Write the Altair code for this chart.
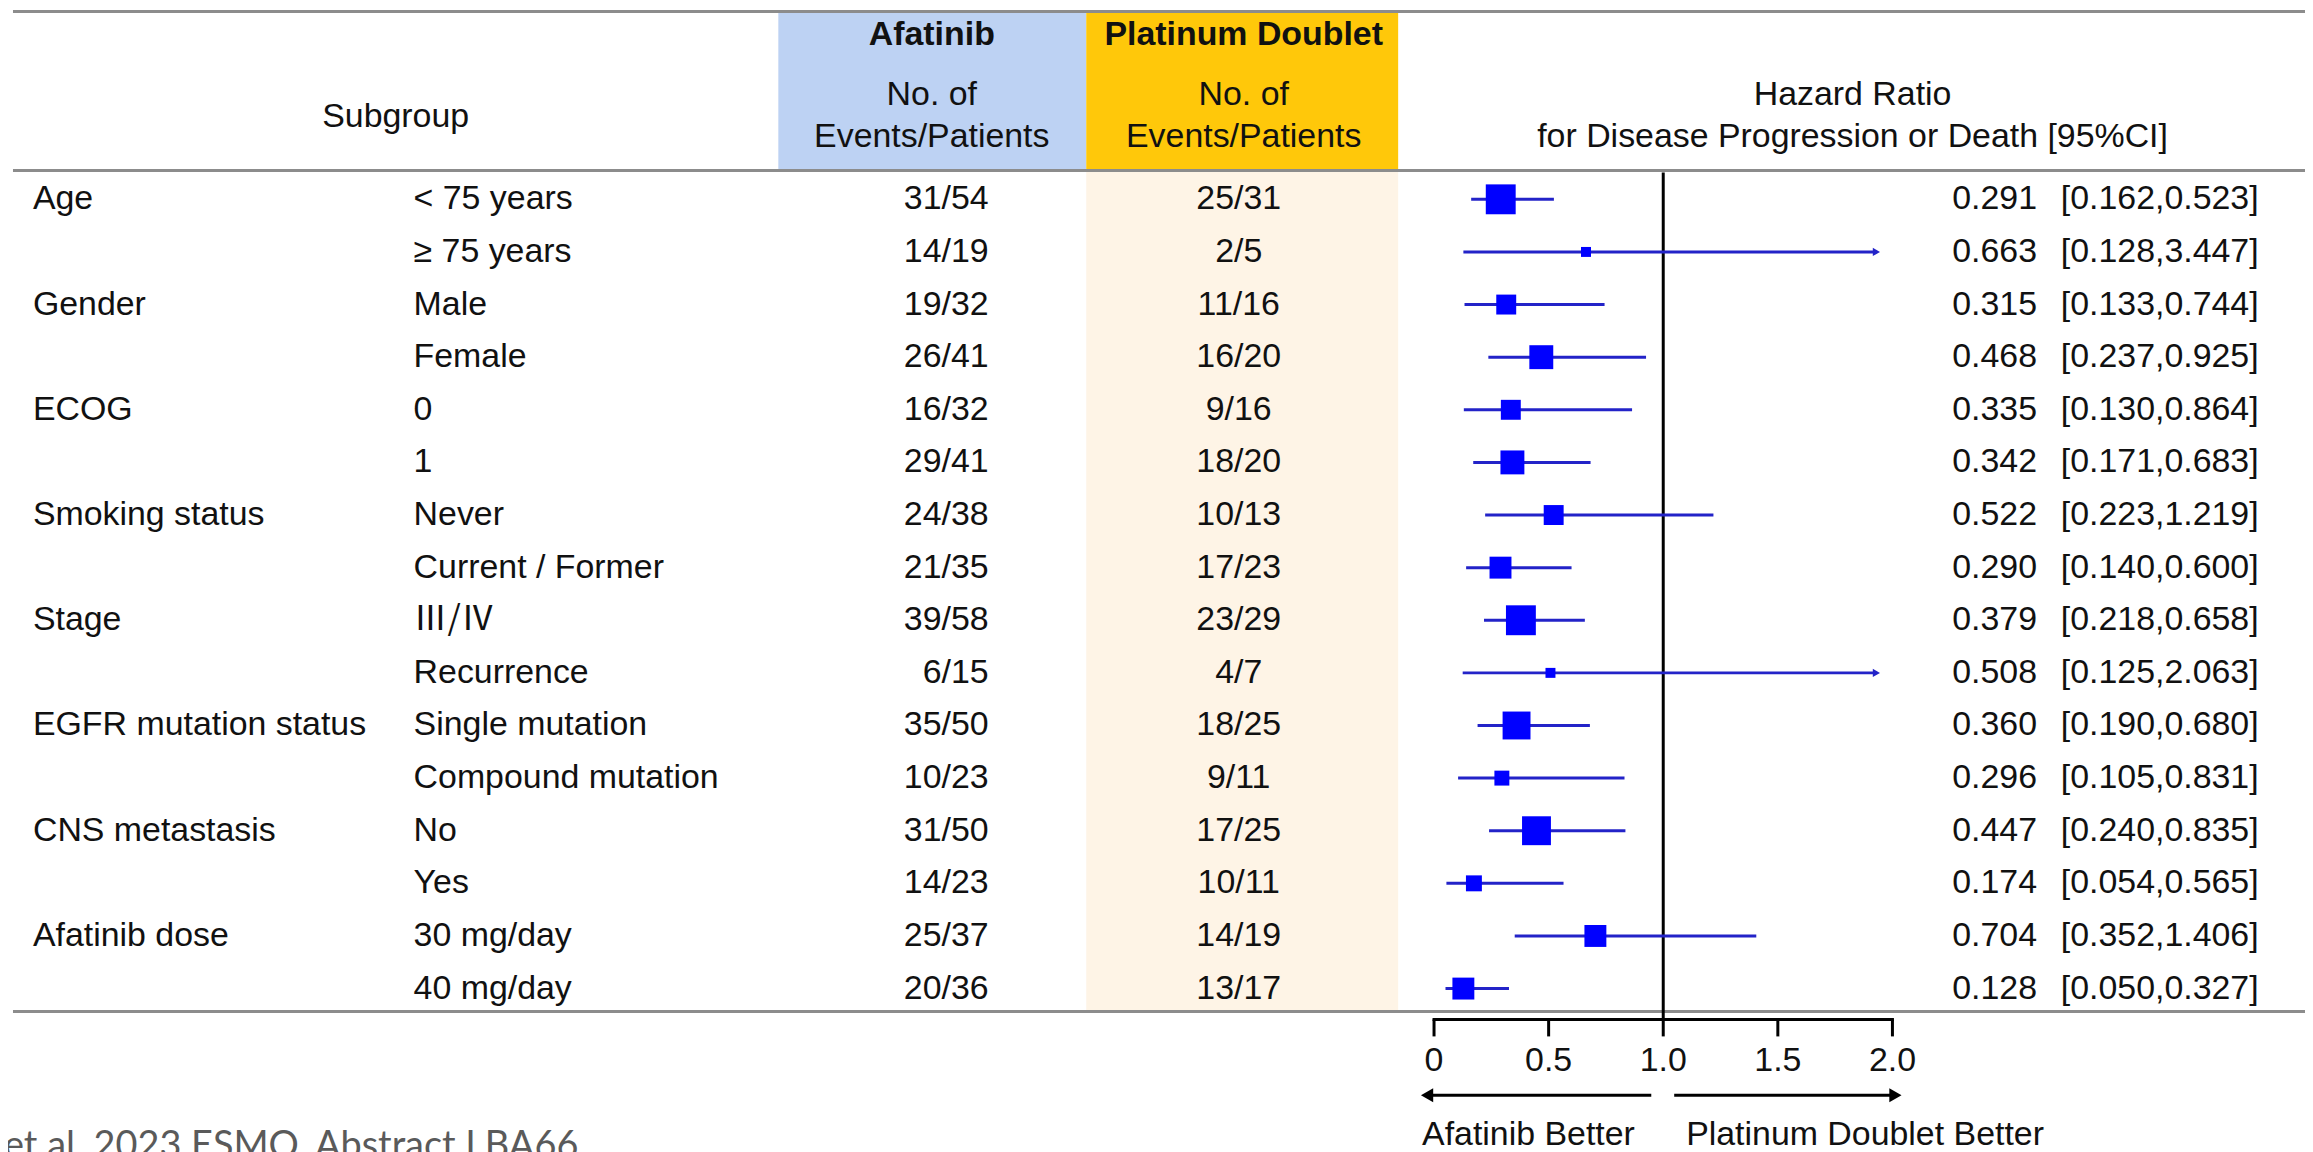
import altair as alt
import pandas as pd

# ---------------- data ----------------
categories = ["Age", "", "Gender", "", "ECOG", "", "Smoking status", "", "Stage", "",
              "EGFR mutation status", "", "CNS metastasis", "", "Afatinib dose", ""]
levels = ["< 75 years", "≥ 75 years", "Male", "Female", "0", "1", "Never", "Current / Former",
          "Ⅲ/Ⅳ", "Recurrence", "Single mutation", "Compound mutation", "No", "Yes",
          "30 mg/day", "40 mg/day"]
afatinib_counts = ["31/54", "14/19", "19/32", "26/41", "16/32", "29/41", "24/38", "21/35",
                   "39/58", "6/15", "35/50", "10/23", "31/50", "14/23", "25/37", "20/36"]
platinum_counts = ["25/31", "2/5", "11/16", "16/20", "9/16", "18/20", "10/13", "17/23",
                   "23/29", "4/7", "18/25", "9/11", "17/25", "10/11", "14/19", "13/17"]
hr = [0.291, 0.663, 0.315, 0.468, 0.335, 0.342, 0.522, 0.290,
      0.379, 0.508, 0.360, 0.296, 0.447, 0.174, 0.704, 0.128]
ci_low = [0.162, 0.128, 0.133, 0.237, 0.130, 0.171, 0.223, 0.140,
          0.218, 0.125, 0.190, 0.105, 0.240, 0.054, 0.352, 0.050]
ci_high = [0.523, 3.447, 0.744, 0.925, 0.864, 0.683, 1.219, 0.600,
           0.658, 2.063, 0.680, 0.831, 0.835, 0.565, 1.406, 0.327]
box_weight = [30, 10, 20, 24, 20, 24, 20, 22, 30, 10, 28, 15, 29, 16, 22, 22]
x_ticks = [0, 0.5, 1.0, 1.5, 2.0]
x_tick_labels = ["0", "0.5", "1.0", "1.5", "2.0"]
DISPLAY_MAX = 1.93

FONT = "Liberation Sans"
FS = 34
TXT = "#111111"
LINE_BLUE = "#2323c8"
BOX_BLUE = "#0000ff"

rows = pd.DataFrame({
    "row": list(range(len(levels))),
    "category": categories,
    "level": levels,
    "afa": afatinib_counts,
    "pla": platinum_counts,
    "hr": hr,
    "lo": ci_low,
    "hi": ci_high,
})
rows["hi_shown"] = [min(h, DISPLAY_MAX) for h in ci_high]
rows["truncated"] = [h > DISPLAY_MAX for h in ci_high]
rows["hr_text"] = [f"{v:.3f}" for v in hr]
rows["ci_text"] = [f"[{l:.3f},{h:.3f}]" for l, h in zip(ci_low, ci_high)]
rows["area"] = [w * w for w in box_weight]
rows["roman"] = [any(ch in s for ch in "ⅢⅣ") for s in levels]

ticks = pd.DataFrame({"v": x_ticks, "lab": x_tick_labels})
axis_span = pd.DataFrame({"a": [x_ticks[0]], "b": [x_ticks[-1]]})

XS = alt.Scale(domain=[0, 2], range=[1431, 1891])
YS = alt.Scale(domain=[0, 15], range=[190, 982])
W, H = 2305, 1144
AXIS_Y = 1013

base = alt.Chart(rows)
ypos = alt.Y("row:Q", scale=YS, axis=None)


def one(t="x"):
    return alt.Chart(pd.DataFrame({"t": [t]}))


def label(txt, x, y, size=FS, weight="normal", align="center", color=TXT, font=FONT,
          baseline="middle"):
    return one(txt).mark_text(align=align, baseline=baseline, fontSize=size, fontWeight=weight,
                              color=color, font=font).encode(
        text="t:N", x=alt.value(x), y=alt.value(y))


def rect(x1, x2, y1, y2, color):
    return one().mark_rect(color=color).encode(
        x=alt.value(x1), x2=alt.value(x2), y=alt.value(y1), y2=alt.value(y2))


def hline(y, x1, x2, color="#8c8c8c", width=3):
    return one().mark_rule(color=color, strokeWidth=width).encode(
        x=alt.value(x1), x2=alt.value(x2), y=alt.value(y))


layers = []
# backgrounds
layers.append(rect(773, 1082, 1, 161, "#bdd2f3"))
layers.append(rect(1082, 1395, 1, 161, "#ffc80a"))
layers.append(rect(1082, 1395, 161, 1005, "#fef4e6"))

# table lines
layers.append(hline(1.5, 5, W))
layers.append(hline(161, 5, W))
layers.append(hline(1005, 5, W))

# header texts
layers.append(label("Subgroup", 389, 107))
layers.append(label("Afatinib", 927, 25, weight="bold"))
layers.append(label("No. of", 927, 85))
layers.append(label("Events/Patients", 927, 127))
layers.append(label("Platinum Doublet", 1240, 25, weight="bold"))
layers.append(label("No. of", 1240, 85))
layers.append(label("Events/Patients", 1240, 127))
layers.append(label("Hazard Ratio", 1851, 85))
layers.append(label("for Disease Progression or Death [95%CI]", 1851, 127))


# body text columns
def col(field, x, align, src=base, font=FONT):
    return src.mark_text(align=align, baseline="middle", fontSize=FS, font=font, color=TXT).encode(
        x=alt.value(x), y=ypos, text=f"{field}:N")


layers.append(col("category", 25, "left"))
layers.append(col("level", 407, "left", src=base.transform_filter("!datum.roman")))
layers.append(col("level", 407, "left", src=base.transform_filter("datum.roman"),
                  font="Noto Sans CJK JP"))
layers.append(col("afa", 984, "right"))
layers.append(col("pla", 1235, "center"))
layers.append(col("hr_text", 1951, "left"))
layers.append(col("ci_text", 2060, "left"))

# hand-drawn x axis (through the HR scale)
layers.append(alt.Chart(axis_span).mark_rule(color="black", strokeWidth=3, strokeCap="square").encode(
    x=alt.X("a:Q", scale=XS, axis=None), x2="b:Q", y=alt.value(AXIS_Y)))
layers.append(alt.Chart(ticks).mark_rule(color="black", strokeWidth=3).encode(
    x=alt.X("v:Q", scale=XS, axis=None), y=alt.value(AXIS_Y), y2=alt.value(AXIS_Y + 17)))
layers.append(alt.Chart(ticks).mark_text(fontSize=FS, font=FONT, color=TXT, baseline="middle").encode(
    x=alt.X("v:Q", scale=XS, axis=None), y=alt.value(1055), text="lab:N"))

# reference line at HR = 1
layers.append(alt.Chart(pd.DataFrame({"v": [1.0]})).mark_rule(color="black", strokeWidth=3).encode(
    x=alt.X("v:Q", scale=XS, axis=None), y=alt.value(163), y2=alt.value(AXIS_Y)))

# CI lines
layers.append(base.mark_rule(color=LINE_BLUE, strokeWidth=3).encode(
    x=alt.X("lo:Q", scale=XS, axis=None), x2="hi_shown:Q", y=ypos))
# arrow heads for truncated CIs
layers.append(base.transform_filter("datum.truncated").mark_point(
    shape="triangle-right", filled=True, size=70, color=LINE_BLUE, opacity=1).encode(
    x=alt.X("hi_shown:Q", scale=XS, axis=None), y=ypos))
# boxes
layers.append(base.mark_square(filled=True, color=BOX_BLUE, opacity=1).encode(
    x=alt.X("hr:Q", scale=XS, axis=None), y=ypos,
    size=alt.Size("area:Q", scale=None, legend=None)))

# direction arrows
layers.append(hline(1089, 1428, 1649, color="black", width=3))
layers.append(hline(1089, 1672, 1890, color="black", width=3))
layers.append(one().mark_point(shape="triangle-left", filled=True, size=200, color="black", opacity=1).encode(
    x=alt.value(1424), y=alt.value(1089)))
layers.append(one().mark_point(shape="triangle-right", filled=True, size=200, color="black", opacity=1).encode(
    x=alt.value(1894), y=alt.value(1089)))
layers.append(label("Afatinib Better", 1419, 1129, align="left"))
layers.append(label("Platinum Doublet Better", 1684, 1129, align="left"))

# footer (cut off at the page edges in the original)
layers.append(label("et al. 2023 ESMO, Abstract LBA66", -4, 1152, size=38, font="Lato",
                    color="#5a5a5a", align="left", baseline="alphabetic"))

chart = alt.layer(*layers).properties(
    width=W, height=H, padding=0, autosize=alt.AutoSizeParams(type="none"),
    background="white",
).configure_view(stroke=None)

chart.save("out.html", embed_options={"renderer": "svg", "actions": False})
